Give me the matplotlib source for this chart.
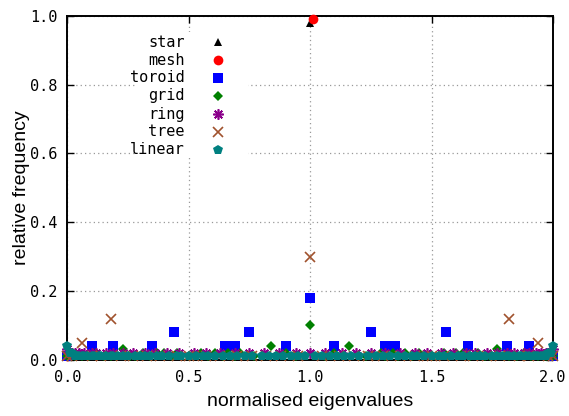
import matplotlib
matplotlib.use("Agg")
import matplotlib.pyplot as plt
from matplotlib.patches import Rectangle

# eigenvalue histograms (x = normalised eigenvalue, y = relative frequency)
star_x = [0.0, 1.0, 2.0]
star_y = [0.01, 0.98, 0.01]

mesh_x = [0.0, 1.01]
mesh_y = [0.01, 0.99]

toroid_x = [0.0, 0.10, 0.19, 0.35, 0.44, 0.65, 0.69, 0.75, 0.90, 1.0,
            1.10, 1.25, 1.31, 1.35, 1.56, 1.65, 1.81, 1.90, 2.0]
toroid_y = [0.01, 0.04, 0.04, 0.04, 0.08, 0.04, 0.04, 0.08, 0.04, 0.18,
            0.04, 0.08, 0.04, 0.04, 0.08, 0.04, 0.04, 0.04, 0.01]

grid_x = [0.00, 0.03, 0.06, 0.09, 0.12, 0.15, 0.18, 0.20, 0.23, 0.26, 0.28,
          0.31, 0.34, 0.37, 0.40, 0.43, 0.45, 0.50, 0.55, 0.58, 0.61, 0.64,
          0.66, 0.69, 0.71, 0.77, 0.80, 0.84, 0.90, 0.94, 1.00,
          1.06, 1.10, 1.16, 1.20, 1.23, 1.29, 1.31, 1.34, 1.36, 1.39, 1.42,
          1.45, 1.50, 1.55, 1.57, 1.60, 1.63, 1.66, 1.69, 1.72, 1.74, 1.77,
          1.80, 1.82, 1.85, 1.88, 1.91, 1.94, 1.97, 2.00]
grid_y = [0.01, 0.01, 0.01, 0.01, 0.02, 0.01, 0.01, 0.01, 0.03, 0.01, 0.01,
          0.02, 0.01, 0.02, 0.02, 0.01, 0.02, 0.01, 0.02, 0.01, 0.02, 0.01,
          0.02, 0.01, 0.02, 0.01, 0.01, 0.04, 0.02, 0.01, 0.10,
          0.01, 0.02, 0.04, 0.01, 0.01, 0.02, 0.01, 0.02, 0.01, 0.02, 0.01,
          0.02, 0.01, 0.02, 0.01, 0.02, 0.02, 0.01, 0.02, 0.01, 0.01, 0.03,
          0.01, 0.01, 0.01, 0.02, 0.01, 0.01, 0.01, 0.01]

ring_x = [0.00, 0.01, 0.02, 0.03, 0.05, 0.07, 0.10, 0.12, 0.16, 0.19, 0.23,
          0.27, 0.32, 0.36, 0.41, 0.46, 0.52, 0.57, 0.63, 0.69, 0.75, 0.81,
          0.87, 0.94, 1.00, 1.06, 1.13, 1.19, 1.25, 1.31, 1.37, 1.43, 1.48,
          1.54, 1.59, 1.64, 1.68, 1.73, 1.77, 1.81, 1.84, 1.88, 1.90, 1.93,
          1.95, 1.97, 1.98, 1.99, 2.00]
ring_y = [0.03] + [0.02] * 47 + [0.03]

tree_x = [0.00, 0.02, 0.06, 0.10, 0.14, 0.18, 0.22, 0.27, 0.33, 0.38, 0.45,
          0.50, 0.52, 0.57, 0.63, 0.70, 0.76, 0.82, 0.88, 0.95, 1.00,
          1.05, 1.12, 1.18, 1.24, 1.30, 1.37, 1.43, 1.48, 1.50, 1.55, 1.62,
          1.67, 1.73, 1.78, 1.82, 1.86, 1.90, 1.94, 1.98, 2.00]
tree_y = [0.01, 0.01, 0.05, 0.01, 0.01, 0.12, 0.01, 0.01, 0.01, 0.01, 0.01,
          0.01, 0.01, 0.01, 0.01, 0.01, 0.01, 0.01, 0.01, 0.01, 0.30,
          0.01, 0.01, 0.01, 0.01, 0.01, 0.01, 0.01, 0.01, 0.01, 0.01, 0.01,
          0.01, 0.01, 0.01, 0.12, 0.01, 0.01, 0.05, 0.01, 0.01]

linear_x = [0.00, 0.01, 0.02, 0.03, 0.04, 0.05, 0.06, 0.07, 0.08, 0.10, 0.11,
            0.13, 0.14, 0.16, 0.18, 0.19, 0.21, 0.23, 0.25, 0.28, 0.30, 0.32,
            0.34, 0.37, 0.39, 0.42, 0.45, 0.47, 0.50, 0.53, 0.56, 0.58, 0.61,
            0.64, 0.67, 0.70, 0.73, 0.76, 0.80, 0.83, 0.86, 0.89, 0.92, 0.95,
            0.98, 1.02, 1.05, 1.08, 1.11, 1.14, 1.17, 1.20, 1.24, 1.27, 1.30,
            1.33, 1.36, 1.39, 1.42, 1.44, 1.47, 1.50, 1.53, 1.55, 1.58, 1.61,
            1.63, 1.66, 1.68, 1.70, 1.72, 1.75, 1.77, 1.79, 1.81, 1.82, 1.84,
            1.86, 1.87, 1.89, 1.90, 1.92, 1.93, 1.94, 1.95, 1.96, 1.97, 1.98,
            1.99, 2.00]
linear_y = [0.04, 0.02, 0.02] + [0.01] * 84 + [0.02, 0.02, 0.04]

x_ticks = [0.0, 0.5, 1.0, 1.5, 2.0]
y_ticks = [0.0, 0.2, 0.4, 0.6, 0.8, 1.0]

SERIES = [
    ("star",   star_x,   star_y,   dict(marker="^", color="black",   ms=5.5, mew=0)),
    ("mesh",   mesh_x,   mesh_y,   dict(marker="o", color="#ff0000", ms=7,   mew=0)),
    ("toroid", toroid_x, toroid_y, dict(marker="s", color="#0000ff", ms=7,   mew=0)),
    ("grid",   grid_x,   grid_y,   dict(marker="D", color="#008000", ms=5,   mew=0)),
    ("ring",   ring_x,   ring_y,   dict(marker=(8, 2, 0), color="#8b008b", ms=7.5, mew=1.2)),
    ("tree",   tree_x,   tree_y,   dict(marker="x", color="#a0522d", ms=7,   mew=1.2)),
    ("linear", linear_x, linear_y, dict(marker="p", color="#008080", ms=7.5, mew=0)),
]

MONO = "DejaVu Sans Mono"
SANS = "Liberation Sans"

fig = plt.figure(figsize=(5.69, 4.16), dpi=100)
fig.patch.set_facecolor("white")
ax = fig.add_axes([0.1183, 0.1351, 0.9719 - 0.1183, 0.9623 - 0.1351])

for name, xs, ys, st in SERIES:
    ax.plot(xs, ys, linestyle="none", clip_on=False, zorder=3,
            markeredgecolor=st["color"], **st)

ax.set_xlim(0, 2)
ax.set_ylim(0, 1)
ax.set_xticks(x_ticks)
ax.set_yticks(y_ticks)
ax.set_xticklabels([f"{v:.1f}" for v in x_ticks], family=MONO, fontsize=11)
ax.set_yticklabels([f"{v:.1f}" for v in y_ticks], family=MONO, fontsize=11)
ax.tick_params(direction="in", length=5, width=1, top=True, right=True, pad=7)
ax.grid(True, color="#999999", linestyle=(0, (1, 2.5)), linewidth=0.9)
ax.set_axisbelow(True)
for sp in ax.spines.values():
    sp.set_linewidth(1.4)

ax.set_xlabel("normalised eigenvalues", family=SANS, fontsize=14, labelpad=6)
ax.set_ylabel("relative frequency", family=SANS, fontsize=14, labelpad=0)

# gnuplot style key: opaque box, right aligned labels, sample to the right
ax.add_patch(Rectangle((0.139, 0.586), 0.233, 0.367, transform=ax.transAxes,
                       facecolor="white", edgecolor="none", zorder=2))
row_y = [0.923, 0.871, 0.819, 0.767, 0.714, 0.662, 0.610]
for (name, _, _, st), yy in zip(SERIES, row_y):
    ax.text(0.242, yy, name, transform=ax.transAxes, ha="right", va="center",
            family=MONO, fontsize=11, zorder=4)
    ax.plot([0.310], [yy], transform=ax.transAxes, linestyle="none", zorder=4,
            markeredgecolor=st["color"], **st)

fig.savefig("out.png", dpi=100, facecolor="white")
